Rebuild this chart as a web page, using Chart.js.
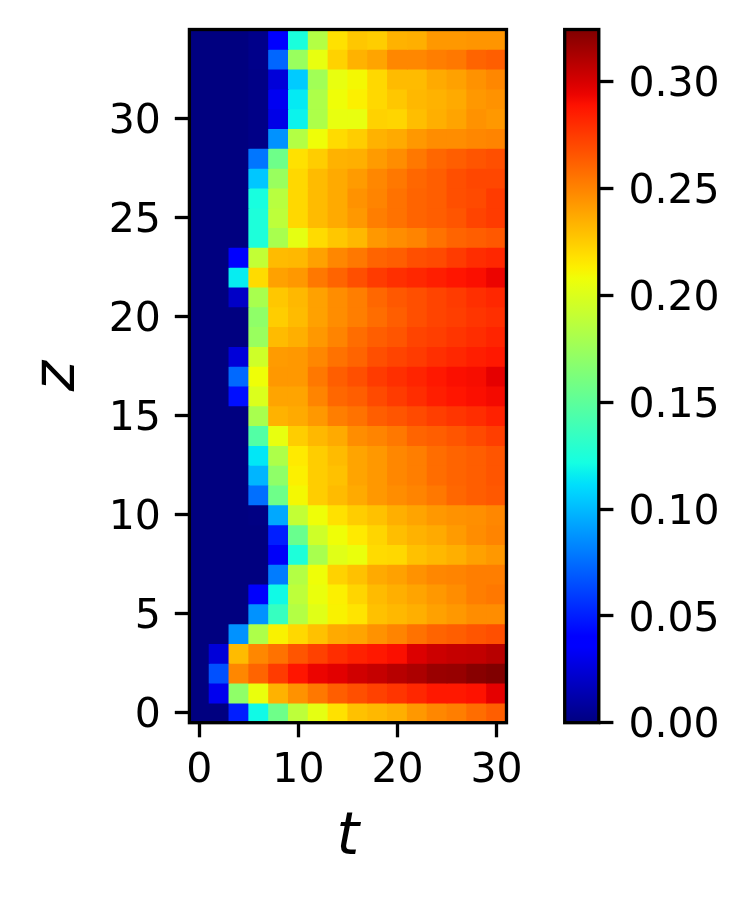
<!DOCTYPE html>
<html>
<head>
<meta charset="utf-8">
<title>z vs t heatmap</title>
<script src="https://cdn.jsdelivr.net/npm/chart.js@4"></script>
<style>
  html, body { margin: 0; padding: 0; background: #fff; }
  canvas { position: absolute; top: 0; }
  #heat { left: 0; }
  #bar { left: 540px; }
</style>
</head>
<body>
<canvas id="heat" width="540" height="898"></canvas>
<canvas id="bar" width="210" height="898"></canvas>
<script>
const tValues = [0, 2, 4, 6, 8, 10, 12, 14, 16, 18, 20, 22, 24, 26, 28, 30];
const tTicks = [0, 10, 20, 30];
const zTicks = [0, 5, 10, 15, 20, 25, 30];
const colorTicks = [0, 0.05, 0.1, 0.15, 0.2, 0.25, 0.3];
const vMax = 0.3245;

// rows listed bottom up, z = index
const rows = [
  [0, 0, .05, .12, .157, .188, .204, .218, .229, .232, .235, .243, .249, .252, .258, .263],
  [0, .031, .17, .206, .234, .245, .254, .263, .268, .273, .277, .282, .287, .287, .289, .296],
  [0, .066, .249, .261, .275, .288, .294, .297, .302, .305, .309, .312, .317, .318, .322, .3245],
  [0, .025, .231, .249, .256, .266, .273, .28, .284, .287, .29, .2985, .303, .305, .306, .309],
  [0, 0, .087, .182, .212, .221, .229, .237, .239, .245, .25, .256, .261, .263, .266, .268],
  [0, 0, 0, .087, .135, .184, .202, .212, .217, .229, .232, .235, .24, .243, .247, .247],
  [0, 0, 0, .035, .12, .188, .206, .213, .222, .231, .235, .239, .243, .247, .252, .254],
  [0, 0, 0, 0, .08, .184, .208, .223, .229, .237, .24, .245, .249, .25, .252, .252],
  [0, 0, 0, 0, .034, .125, .18, .202, .206, .22, .221, .229, .232, .235, .24, .243],
  [0, 0, 0, 0, .05, .155, .195, .208, .215, .222, .23, .234, .237, .242, .247, .25],
  [0, 0, 0, .001, .094, .19, .208, .218, .225, .229, .235, .239, .243, .245, .246, .249],
  [0, 0, 0, .076, .157, .21, .225, .231, .237, .243, .247, .25, .254, .26, .263, .265],
  [0, 0, 0, .098, .17, .213, .225, .229, .239, .243, .249, .252, .258, .261, .263, .266],
  [0, 0, 0, .114, .182, .215, .225, .231, .239, .243, .249, .252, .258, .261, .263, .266],
  [0, 0, 0, .146, .205, .225, .232, .237, .247, .25, .254, .261, .263, .266, .27, .274],
  [0, 0, 0, .18, .234, .237, .243, .252, .256, .263, .266, .27, .274, .277, .28, .284],
  [0, 0, .045, .2, .239, .239, .25, .26, .263, .27, .275, .28, .285, .288, .29, .292],
  [0, 0, .074, .208, .243, .243, .254, .263, .268, .275, .279, .283, .287, .29, .291, .296],
  [0, 0, .025, .195, .242, .243, .249, .256, .261, .268, .272, .275, .279, .282, .285, .287],
  [0, 0, 0, .174, .231, .235, .243, .25, .258, .263, .266, .272, .274, .277, .28, .283],
  [0, 0, 0, .17, .225, .231, .24, .247, .252, .258, .263, .268, .272, .274, .277, .279],
  [0, 0, .02, .18, .227, .232, .24, .247, .252, .26, .265, .268, .272, .275, .279, .282],
  [0, 0, .116, .22, .24, .243, .254, .261, .268, .275, .279, .282, .285, .288, .29, .294],
  [0, 0, .037, .19, .231, .232, .24, .249, .254, .261, .263, .268, .27, .275, .28, .282],
  [0, 0, 0, .125, .18, .204, .22, .227, .232, .243, .247, .25, .256, .261, .263, .265],
  [0, 0, 0, .125, .188, .221, .231, .237, .243, .252, .256, .261, .263, .266, .272, .275],
  [0, 0, 0, .123, .186, .221, .231, .237, .245, .25, .256, .261, .263, .268, .27, .275],
  [0, 0, 0, .104, .174, .221, .231, .237, .242, .249, .254, .26, .263, .268, .271, .271],
  [0, 0, 0, .078, .157, .218, .225, .234, .235, .242, .247, .254, .26, .263, .266, .268],
  [0, 0, 0, .002, .087, .184, .208, .22, .225, .234, .237, .243, .247, .247, .249, .25],
  [0, 0, 0, .002, .029, .118, .182, .205, .205, .223, .222, .23, .235, .239, .245, .243],
  [0, 0, 0, .002, .032, .115, .182, .208, .213, .221, .227, .232, .234, .237, .243, .245],
  [0, 0, 0, .002, .025, .105, .177, .205, .21, .221, .231, .231, .237, .24, .245, .249],
  [0, 0, 0, .003, .073, .174, .205, .223, .234, .239, .249, .249, .252, .254, .261, .263],
  [0, 0, 0, .003, .036, .124, .184, .218, .227, .225, .234, .235, .243, .243, .244, .244]
];

// matplotlib jet segments
function ramp(pts, f) {
  for (let i = 1; i < pts.length; i++) {
    if (f <= pts[i][0]) {
      const [a, va] = pts[i - 1], [b, vb] = pts[i];
      return va + (vb - va) * (f - a) / (b - a);
    }
  }
  return pts[pts.length - 1][1];
}
function jet(f) {
  f = Math.min(1, Math.max(0, f));
  const r = ramp([[0, 0], [.35, 0], [.66, 1], [.89, 1], [1, .5]], f);
  const g = ramp([[0, 0], [.125, 0], [.375, 1], [.64, 1], [.91, 0], [1, 0]], f);
  const b = ramp([[0, .5], [.11, 1], [.34, 1], [.65, 0], [1, 0]], f);
  return `rgb(${Math.round(r * 255)},${Math.round(g * 255)},${Math.round(b * 255)})`;
}

const family = "'DejaVu Sans', sans-serif";
const font = { family, size: 41 };
// the empty first line drops the digits by half a line, canvas "middle" sits too high
const yFont = { family, size: 41, lineHeight: '8px' };
const titleFont = { family, size: 58, style: 'italic' };

// black box round the plot area
const frame = {
  id: 'frame',
  afterDraw(chart) {
    const { left, top, width, height } = chart.chartArea;
    const c = chart.ctx;
    c.save();
    c.lineWidth = 3.3;
    c.strokeStyle = '#000';
    c.strokeRect(left, top, width, height);
    c.restore();
  }
};

// scale size is fixed by hand, label overhang must not push the plot area around
function fixSize(s, w, h) {
  if (w) s.width = w;
  if (h) s.height = h;
  s.paddingTop = s.paddingBottom = s.paddingLeft = s.paddingRight = 0;
}

const cells = [];
rows.forEach((row, z) => {
  row.forEach((v, i) => cells.push({ x: tValues[i], y: [z - 0.5, z + 0.5], v }));
});

const tickGrid = { drawOnChartArea: false, drawTicks: true, tickLength: 14.6, tickWidth: 3.3, tickColor: '#000' };

new Chart(document.getElementById('heat'), {
  type: 'bar',
  data: {
    datasets: [{
      data: cells,
      backgroundColor: cells.map(c => jet(c.v / vMax)),
      barPercentage: 1,
      categoryPercentage: 1,
      borderWidth: 0,
      inflateAmount: 0.5
    }]
  },
  options: {
    responsive: false,
    animation: false,
    layout: { padding: { left: 0, right: 33.5, top: 29.5, bottom: 0 } },
    plugins: { legend: { display: false }, tooltip: { enabled: false } },
    scales: {
      x: {
        type: 'linear',
        offset: false,
        min: -1,
        max: 31,
        afterBuildTicks(s) { s.ticks = tTicks.map(value => ({ value })); },
        grid: { ...tickGrid, offset: false },
        border: { display: false },
        ticks: { color: '#000', font, padding: 9, maxRotation: 0 },
        title: { display: true, text: 't', color: '#000', font: titleFont, padding: { top: 0, bottom: 24 } },
        afterFit(s) { fixSize(s, 0, 898 - 722.7); }
      },
      y: {
        min: -0.5,
        max: 34.5,
        afterBuildTicks(s) { s.ticks = zTicks.map(value => ({ value })); },
        grid: tickGrid,
        border: { display: false },
        ticks: { color: '#000', font: yFont, padding: 14, callback: v => ['', String(v)] },
        title: { display: true, text: 'z', color: '#000', font: titleFont, padding: { top: 24, bottom: 0 } },
        afterFit(s) { fixSize(s, 189.4, 0); }
      }
    }
  },
  plugins: [frame]
});

new Chart(document.getElementById('bar'), {
  type: 'bar',
  data: {
    labels: [''],
    datasets: [{
      data: [[0, vMax]],
      barPercentage: 1,
      categoryPercentage: 1,
      borderWidth: 0,
      backgroundColor(ctx) {
        const area = ctx.chart.chartArea;
        if (!area) return '#000';
        const grad = ctx.chart.ctx.createLinearGradient(0, area.bottom, 0, area.top);
        for (let i = 0; i <= 64; i++) grad.addColorStop(i / 64, jet(i / 64));
        return grad;
      }
    }]
  },
  options: {
    responsive: false,
    animation: false,
    layout: { padding: { left: 24.7, right: 0, top: 29.5, bottom: 898 - 722.7 } },
    plugins: { legend: { display: false }, tooltip: { enabled: false } },
    scales: {
      x: { display: false },
      y: {
        position: 'right',
        min: 0,
        max: vMax,
        afterBuildTicks(s) { s.ticks = colorTicks.map(value => ({ value })); },
        grid: tickGrid,
        border: { display: false },
        ticks: { color: '#000', font: yFont, padding: 15, callback: v => ['', v.toFixed(2)] },
        afterFit(s) { fixSize(s, 210 - 58.8, 0); }
      }
    }
  },
  plugins: [frame]
});
</script>
</body>
</html>
